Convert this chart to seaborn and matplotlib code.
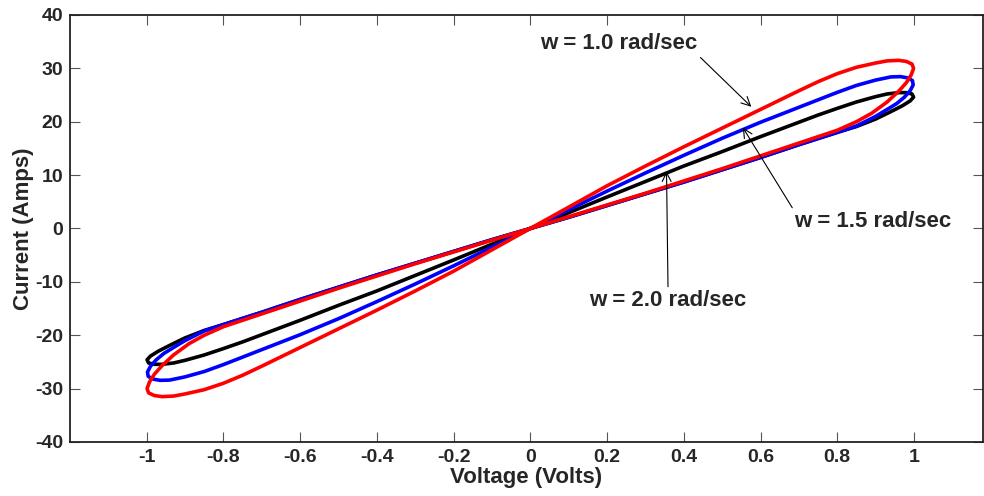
import numpy as np
import matplotlib
matplotlib.use("Agg")
import matplotlib.pyplot as plt
import seaborn as sns

# pinched hysteresis loops
# w = 2.0 rad/sec (black)
v_w2 = [0, 0.1, 0.2, 0.3, 0.4, 0.5, 0.6, 0.7, 0.8, 0.85, 0.9, 0.94, 0.97, 0.99, 0.999, 0.995, 0.98,
        0.96, 0.93, 0.9, 0.85, 0.8, 0.75, 0.7, 0.6, 0.5, 0.4, 0.3, 0.2, 0.1, 0,
        -0.1, -0.2, -0.3, -0.4, -0.5, -0.6, -0.7, -0.75, -0.8, -0.85, -0.9, -0.93, -0.96, -0.98,
        -0.995, -0.999, -0.99, -0.97, -0.94, -0.9, -0.85, -0.8, -0.7, -0.6, -0.5, -0.4, -0.3,
        -0.2, -0.1, 0]
i_w2 = [0, 2.1, 4.3, 6.5, 8.7, 11.0, 13.3, 15.7, 18.0, 19.1, 20.5, 21.9, 23.0, 23.9, 24.6, 25.2, 25.45,
        25.45, 25.2, 24.7, 23.7, 22.5, 21.25, 19.9, 17.2, 14.4, 11.7, 8.8, 5.9, 2.95, 0,
        -2.95, -5.9, -8.8, -11.7, -14.4, -17.2, -19.9, -21.25, -22.5, -23.7, -24.7, -25.2, -25.45, -25.45,
        -25.2, -24.6, -23.9, -23.0, -21.9, -20.5, -19.1, -18.0, -15.7, -13.3, -11.0, -8.7, -6.5,
        -4.3, -2.1, 0]

# w = 1.5 rad/sec (blue)
v_w15 = [0, 0.1, 0.2, 0.3, 0.4, 0.5, 0.6, 0.7, 0.8, 0.85, 0.9, 0.93, 0.955, 0.975, 0.99, 0.998, 0.996,
         0.985, 0.965, 0.94, 0.9, 0.85, 0.8, 0.75, 0.7, 0.6, 0.5, 0.4, 0.3, 0.2, 0.1, 0,
         -0.1, -0.2, -0.3, -0.4, -0.5, -0.6, -0.7, -0.75, -0.8, -0.85, -0.9, -0.94, -0.965, -0.985,
         -0.996, -0.998, -0.99, -0.975, -0.955, -0.93, -0.9, -0.85, -0.8, -0.7, -0.6, -0.5, -0.4,
         -0.3, -0.2, -0.1, 0]
i_w15 = [0, 2.1, 4.3, 6.5, 8.7, 11.0, 13.3, 15.7, 18.0, 19.2, 21.0, 22.3, 23.4, 24.6, 25.8, 26.9, 27.7,
         28.2, 28.45, 28.4, 27.8, 26.8, 25.5, 24.1, 22.7, 19.9, 16.9, 13.7, 10.4, 7.0, 3.5, 0,
         -3.5, -7.0, -10.4, -13.7, -16.9, -19.9, -22.7, -24.1, -25.5, -26.8, -27.8, -28.4, -28.45, -28.2,
         -27.7, -26.9, -25.8, -24.6, -23.4, -22.3, -21.0, -19.2, -18.0, -15.7, -13.3, -11.0, -8.7,
         -6.5, -4.3, -2.1, 0]

# w = 1.0 rad/sec (red)
v_w1 = [0, 0.1, 0.2, 0.3, 0.4, 0.5, 0.6, 0.7, 0.8, 0.85, 0.89, 0.93, 0.96, 0.98, 0.993, 0.999, 0.995,
        0.98, 0.96, 0.93, 0.9, 0.85, 0.8, 0.75, 0.7, 0.6, 0.5, 0.4, 0.3, 0.2, 0.1, 0,
        -0.1, -0.2, -0.3, -0.4, -0.5, -0.6, -0.7, -0.75, -0.8, -0.85, -0.9, -0.93, -0.96, -0.98,
        -0.995, -0.999, -0.993, -0.98, -0.96, -0.93, -0.89, -0.85, -0.8, -0.7, -0.6, -0.5, -0.4,
        -0.3, -0.2, -0.1, 0]
i_w1 = [0, 2.2, 4.4, 6.6, 8.9, 11.2, 13.6, 16.0, 18.4, 20.0, 21.6, 23.7, 25.7, 27.3, 28.8, 30.0, 30.8,
        31.3, 31.5, 31.4, 31.0, 30.2, 29.0, 27.5, 25.8, 22.3, 18.8, 15.3, 11.7, 8.0, 4.0, 0,
        -4.0, -8.0, -11.7, -15.3, -18.8, -22.3, -25.8, -27.5, -29.0, -30.2, -31.0, -31.4, -31.5, -31.3,
        -30.8, -30.0, -28.8, -27.3, -25.7, -23.7, -21.6, -20.0, -18.4, -16.0, -13.6, -11.2, -8.9,
        -6.6, -4.4, -2.2, 0]

x_ticks = [-1, -0.8, -0.6, -0.4, -0.2, 0, 0.2, 0.4, 0.6, 0.8, 1]
x_ticklabels = ['-1', '-0.8', '-0.6', '-0.4', '-0.2', '0', '0.2', '0.4', '0.6', '0.8', '1']
y_ticks = [-40, -30, -20, -10, 0, 10, 20, 30, 40]

sns.set_style("ticks")
plt.rcParams['font.family'] = ['Liberation Sans', 'DejaVu Sans']
plt.rcParams['font.weight'] = 'bold'
plt.rcParams['axes.unicode_minus'] = False

fig = plt.figure(figsize=(9.84, 4.96), dpi=100)
ax = fig.add_axes([0.0711, 0.1089, 0.9279, 0.8609])

sns.lineplot(x=v_w2, y=i_w2, sort=False, estimator=None, color='black', linewidth=2.6, ax=ax)
sns.lineplot(x=v_w15, y=i_w15, sort=False, estimator=None, color='#0000ff', linewidth=2.6, ax=ax)
sns.lineplot(x=v_w1, y=i_w1, sort=False, estimator=None, color='#ff0000', linewidth=2.6, ax=ax)
for ln in ax.lines:
    ln.set_solid_joinstyle('round')

ax.set_xlim(-1.2, 1.18)
ax.set_ylim(-40, 40)
ax.set_xticks(x_ticks)
ax.set_xticklabels(x_ticklabels)
ax.set_yticks(y_ticks)
ax.tick_params(direction='in', length=7, width=0.8, color='#555555', labelsize=14,
               top=True, right=True, pad=5)
for lab in ax.get_xticklabels() + ax.get_yticklabels():
    lab.set_fontweight('bold')
for sp in ax.spines.values():
    sp.set_linewidth(1.3)
    sp.set_color('#222222')

ax.set_xlabel('Voltage (Volts)', fontsize=16, fontweight='bold', labelpad=1)
ax.set_ylabel('Current (Amps)', fontsize=16, fontweight='bold', labelpad=1)

arrow = dict(arrowstyle='->', color='black', lw=0.8, shrinkA=0, shrinkB=0)
ax.annotate('w = 1.0 rad/sec', xy=(0.576, 22.8), xytext=(0.23, 34.6), fontsize=16,
            fontweight='bold', ha='center', va='center',
            arrowprops=dict(arrow, relpos=(1.0, 0.0)))
ax.annotate('w = 1.5 rad/sec', xy=(0.554, 18.9), xytext=(0.893, 1.3), fontsize=16,
            fontweight='bold', ha='center', va='center',
            arrowprops=dict(arrow, relpos=(0.0, 1.0)))
ax.annotate('w = 2.0 rad/sec', xy=(0.355, 10.7), xytext=(0.359, -13.5), fontsize=16,
            fontweight='bold', ha='center', va='center',
            arrowprops=dict(arrow, relpos=(0.5, 1.0)))

fig.savefig('out.png', dpi=100)
